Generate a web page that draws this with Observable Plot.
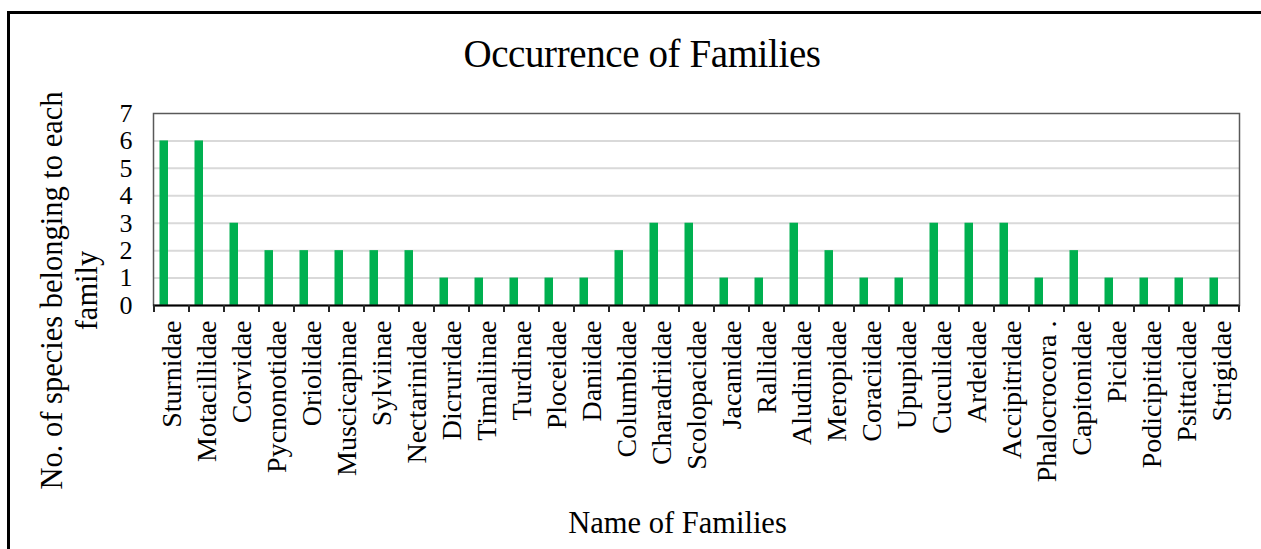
<!DOCTYPE html>
<html>
<head>
<meta charset="utf-8">
<script src="https://cdn.jsdelivr.net/npm/d3@7"></script>
<script src="https://cdn.jsdelivr.net/npm/@observablehq/plot@0.6"></script>
<style>
  body { margin: 0; background: #fff; width: 1261px; height: 549px; overflow: hidden; position: relative; font-family: "Liberation Serif", "Times New Roman", serif; }
  #border { position: absolute; left: 7px; top: 11px; width: 1300px; height: 600px; border-top: 3px solid #000; border-left: 3px solid #000; pointer-events: none; }
  #title { position: absolute; left: 642px; top: 34px; transform: translateX(-50%); font-size: 39px; line-height: 39px; white-space: nowrap; letter-spacing: -0.4px; color: #000; }
  #chart { position: absolute; left: 0; top: 100px; }
</style>
</head>
<body>
<div id="border"></div>
<div id="title">Occurrence of Families</div>
<div id="chart"></div>
<script>
const families = ["Sturnidae","Motacillidae","Corvidae","Pycnonotidae","Oriolidae","Muscicapinae","Sylviinae","Nectarinidae","Dicruridae","Timaliinae","Turdinae","Ploceidae","Daniidae","Columbidae","Charadriidae","Scolopacidae","Jacanidae","Rallidae","Aludinidae","Meropidae","Coraciidae","Upupidae","Cuculidae","Ardeidae","Accipitridae","Phalocrocora .","Capitonidae","Picidae","Podicipitidae","Psittacidae","Strigidae"];
const counts = [6,6,3,2,2,2,2,2,1,1,1,1,1,2,3,3,1,1,3,2,1,1,3,3,3,1,2,1,1,1,1];
const yTicks = [0,1,2,3,4,5,6,7];
const xLabel = "Name of Families";
const yLabel = "No. of species belonging to each\nfamily";

const data = families.map((f, i) => ({family: f, count: counts[i]}));

const plot = Plot.plot({
  width: 1261,
  height: 449,
  marginTop: 13,
  marginBottom: 244,
  marginLeft: 153,
  marginRight: 22,
  style: {fontFamily: "'Liberation Serif', 'Times New Roman', serif", fontSize: "23px", color: "#000", background: "transparent", overflow: "visible"},
  x: {domain: families, paddingInner: 0, paddingOuter: 0, label: null},
  y: {domain: [0, 7], ticks: yTicks, label: null},
  marks: [
    Plot.gridY(yTicks.filter(d => d > 0 && d < 7), {stroke: "#d9d9d9", strokeOpacity: 1, strokeWidth: 2}),
    Plot.barY(data, {x: "family", y: "count", fill: "#00B050", insetLeft: 5.5, insetRight: 21}),
    Plot.frame({stroke: "#595959", strokeWidth: 1.5}),
    Plot.axisY({ticks: yTicks, tickFormat: d3.format("d"), tickSize: 0, tickPadding: 21, fontSize: 26, label: null}),
    Plot.axisX({tickSize: 0, tickRotate: -90, tickPadding: 15, fontSize: 28, label: null}),
    Plot.ruleY([0], {stroke: "#000", strokeWidth: 2}),
    Plot.text([yLabel], {frameAnchor: "left", dx: -85, dy: 81, rotate: -90, fontSize: 30.5, lineHeight: 1.15, textAnchor: "middle", lineAnchor: "middle", fill: "#000"}),
    Plot.text([xLabel], {frameAnchor: "bottom", dx: -19, dy: 218, fontSize: 30.5, lineAnchor: "middle", fill: "#000"})
  ]
});

// category boundary ticks below the axis, positioned from Plot's own x scale
const xs = plot.scale("x");
const yScale = plot.scale("y");
const bounds = families.map(f => xs.apply(f)).concat([xs.apply(families[families.length - 1]) + xs.bandwidth]);
const y0 = yScale.apply(0);
d3.select(plot).append("g").attr("stroke", "#262626").attr("stroke-width", 2)
  .selectAll("line").data(bounds).join("line")
  .attr("x1", d => d).attr("x2", d => d)
  .attr("y1", y0).attr("y2", y0 + 7);

document.getElementById("chart").appendChild(plot);
</script>
</body>
</html>
